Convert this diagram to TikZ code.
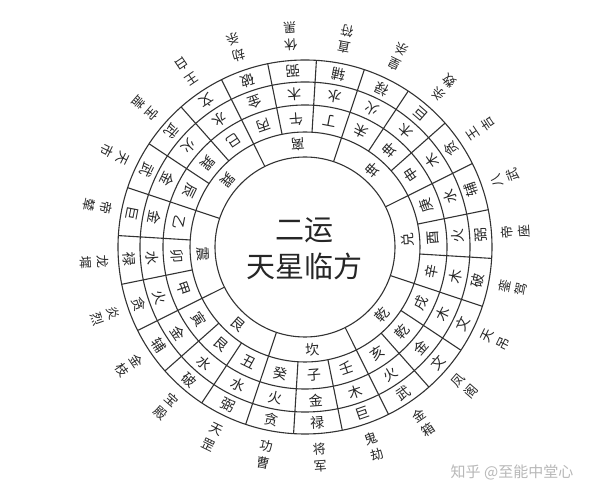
\documentclass[tikz,border=0pt]{standalone}
\usepackage{fontspec}
\newfontfamily\cjk{Noto Sans CJK SC}
\begin{document}
\begin{tikzpicture}[x=1pt,y=1pt,
  cell/.style={font=\cjk\fontsize{14}{14}\selectfont, inner sep=0pt, text=black!85},
  lbl/.style={font=\cjk\fontsize{13}{13}\selectfont, inner sep=0pt, text=black!85},
  ringline/.style={line width=1.1pt, draw=black!80},
  title/.style={font=\cjk\fontsize{29}{30}\selectfont, inner sep=0pt, text=black!85},
  wmark/.style={font=\cjk\fontsize{15}{16}\selectfont, inner sep=0pt, text=black!28}]
\useasboundingbox[fill=white] (-305,-253) rectangle (295,247);
\def\rot{4}
% rings
\foreach \r in {90,115,142,165,187} \draw[ringline] (0,0) circle[radius=\r];
% radial dividers of the 24 mountains
\foreach \k in {0,...,23}{
  \pgfmathsetmacro\b{270-15*\k+7.5+\rot}
  \draw[ringline] (\b:115) -- (\b:187);
}
% dividers of the 8 trigrams
\foreach \j in {0,...,7}{
  \pgfmathsetmacro\b{22.5+45*\j+\rot}
  \draw[ringline] (\b:90) -- (\b:115);
}
% trigrams
\foreach \t [count=\i from 0] in {坎,艮,震,巽,离,坤,兑,乾}{
  \pgfmathsetmacro\a{270-45*\i+\rot}
  \node[cell, rotate=\a+90] (g\i) at (\a:102.5) {\t};
}
% 24 mountains
\foreach \m [count=\i from 0] in {子,癸,丑,艮,寅,甲,卯,乙,辰,巽,巳,丙,午,丁,未,坤,申,庚,酉,辛,戌,乾,亥,壬}{
  \pgfmathsetmacro\a{270-15*\i+\rot}
  \node[cell, rotate=\a+90] (m\i) at (\a:128.5) {\m};
}
% elements
\foreach \m [count=\i from 0] in {金,火,水,水,金,火,水,金,金,火,水,金,木,水,火,木,木,水,火,木,木,金,火,木}{
  \pgfmathsetmacro\a{270-15*\i+\rot}
  \node[cell, rotate=\a+90] (e\i) at (\a:153.5) {\m};
}
% stars
\foreach \m [count=\i from 0] in {禄,贪,弼,破,辅,贪,禄,巨,武,武,文,破,弼,辅,禄,巨,贪,辅,弼,破,文,文,武,巨}{
  \pgfmathsetmacro\a{270-15*\i+\rot}
  \node[cell, rotate=\a+90] (s\i) at (\a:176) {\m};
}
% outer names
\foreach \p/\q [count=\i from 0] in {将/军,功/曹,天/罡,宝/殿,金/枝,炎/烈,龙/墀,帝/辇,天/市,宝/盖,王/白,劫/杀,休/黑,直/符,皇/杀,杀/数,王/吉,八/武,帝/座,銮/驾,天/吊,凤/阁,金/箱,鬼/劫}{
  \pgfmathsetmacro\a{270-15*\i+\rot}
  \node[lbl, rotate=\a+90] (oa\i) at (\a:203) {\p};
  \node[lbl, rotate=\a+90] (ob\i) at (\a:220) {\q};
}
% centre
\node[title] (t1) at (0,17) {二运};
\node[title] (t2) at (0,-19) {天星临方};
% watermark
\node[wmark] (wm) at (207,-225) {知乎 @至能中堂心};
\end{tikzpicture}
\end{document}
